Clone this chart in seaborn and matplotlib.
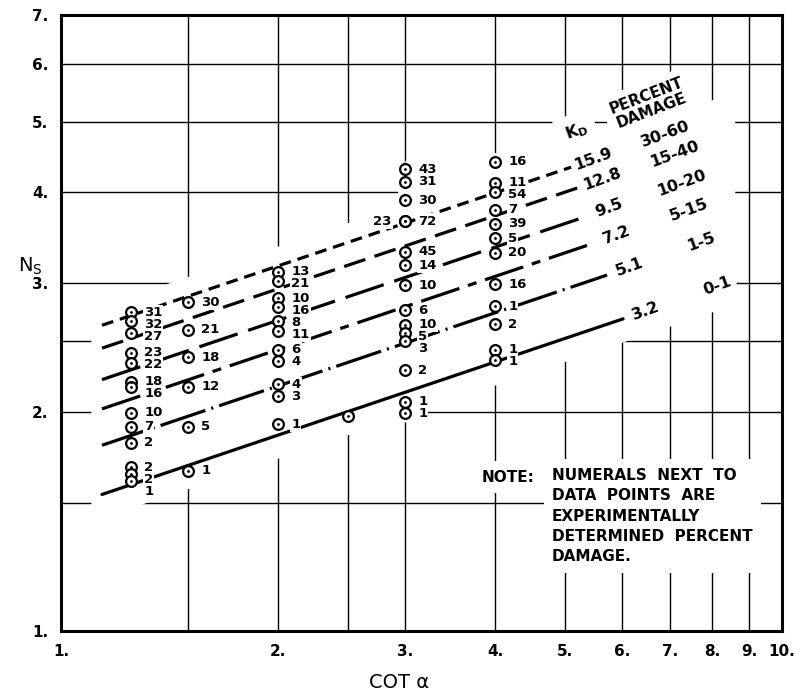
import numpy as np
import pandas as pd
import matplotlib
matplotlib.use("Agg")
import matplotlib.pyplot as plt
import seaborn as sns

# ---------------- measured stability data ----------------
# stability number Ns and experimentally determined percent damage per slope (cot alpha)
cot_a = [1.25, 1.5, 2.0, 2.5, 3.0, 4.0]

ns_125 = [2.736, 2.665, 2.566, 2.409, 2.333, 2.198, 2.159, 1.993, 1.906, 1.813, 1.677, 1.642, 1.607]
dmg_125 = [31, 32, 27, 23, 22, 18, 16, 10, 7, 2, 2, 2, 1]

ns_150 = [2.824, 2.588, 2.374, 2.163, 1.906, 1.659]
dmg_150 = [30, 21, 18, 12, 5, 1]

ns_200 = [3.111, 3.024, 2.860, 2.780, 2.662, 2.582, 2.430, 2.346, 2.180, 2.102, 1.923]
dmg_200 = [13, 21, 10, 16, 8, 11, 6, 4, 4, 3, 1]

ns_250 = [1.974]
dmg_250 = [None]

ns_300 = [4.298, 4.134, 3.901, 3.651, 3.651, 3.314, 3.177, 2.983, 2.756, 2.630, 2.561, 2.502, 2.280, 2.063, 1.993]
dmg_300 = [43, 31, 30, 23, 72, 45, 14, 10, 6, 10, 5, 3, 2, 1, 1]

ns_400 = [4.403, 4.121, 4.006, 3.781, 3.619, 3.457, 3.303, 2.992, 2.791, 2.637, 2.430, 2.353]
dmg_400 = [16, 11, 54, 7, 39, 5, 20, 16, 1, 2, 1, 1]

ns_cols = [ns_125, ns_150, ns_200, ns_250, ns_300, ns_400]
dmg_cols = [dmg_125, dmg_150, dmg_200, dmg_250, dmg_300, dmg_400]

# ---------------- design curves  Ns^3 = KD * cot(alpha) ----------------
kd_values = [15.9, 12.8, 9.5, 7.2, 5.1, 3.2]
damage_ranges = ["30-60", "15-40", "10-20", "5-15", "1-5", "0-1"]
line_x_start = 1.14
line_x_end = [5.10, 5.25, 5.36, 5.50, 5.72, 6.02]

x_ticks = [1, 2, 3, 4, 5, 6, 7, 8, 9, 10]
y_ticks = [1, 2, 3, 4, 5, 6, 7]
x_tick_labels = [f"{t}." for t in x_ticks]
y_tick_labels = [f"{t}." for t in y_ticks]
grid_x = [1.5, 2, 2.5, 3, 4, 5, 6, 7, 8, 9]
grid_y = [1.5, 2, 2.5, 3, 4, 5, 6]

# ---------------- styling ----------------
sns.set_theme(style="white")
plt.rcParams["font.family"] = ["DejaVu Sans"]
plt.rcParams["lines.scale_dashes"] = False
for key in ("text.color", "axes.labelcolor", "xtick.color", "ytick.color"):
    plt.rcParams[key] = "black"

fig = plt.figure(figsize=(7.95, 6.95), dpi=100)
ax = fig.add_axes([61 / 795, 64 / 695, 721 / 795, 616 / 695])
ax.set_xscale("log")
ax.set_yscale("log")
ax.set_xlim(1, 10)
ax.set_ylim(1, 7)
ax.set_facecolor("white")

# grid
for gx in grid_x:
    ax.axvline(gx, color="black", lw=1.0, zorder=1)
for gy in grid_y:
    ax.axhline(gy, color="black", lw=1.0, zorder=1)

# blank drafting band behind curves and data
xx = np.geomspace(1.10, 8.6, 300)
col_top = [max(c) for c in ns_cols]
col_bot = [min(c) for c in ns_cols]
env_top = np.exp(np.interp(np.log(xx), np.log(cot_a), np.log(col_top))) * 1.03
env_bot = np.exp(np.interp(np.log(xx), np.log(cot_a), np.log(col_bot))) / 1.03
env_bot = np.where(xx > max(cot_a), np.inf, env_bot)
upper = np.maximum((max(kd_values) * xx) ** (1 / 3) * 1.065, env_top)
lower = np.minimum((min(kd_values) * xx) ** (1 / 3) * 0.93, env_bot)
ax.fill_between(xx, lower, upper, color="white", lw=0, zorder=1.5)

# design curves
kd_names = [f"{k}" for k in kd_values]
rows = []
for name, kd, xe in zip(kd_names, kd_values, line_x_end):
    for xv in (line_x_start, xe):
        rows.append({"cot": xv, "ns": (kd * xv) ** (1 / 3), "kd": name})
lines_df = pd.DataFrame(rows)
dash_patterns = [(8.5, 5), (16, 7), (29, 8), (29, 6.5, 6.5, 6.5), (34, 4.5, 1.5, 4.5), ""]
sns.lineplot(data=lines_df, x="cot", y="ns", hue="kd", style="kd",
             palette={n: "black" for n in kd_names},
             dashes=dict(zip(kd_names, dash_patterns)),
             lw=2.3, legend=False, estimator=None, sort=False, ax=ax, zorder=3)

# data points
pts = pd.DataFrame([(x, n, d) for x, nl, dl in zip(cot_a, ns_cols, dmg_cols)
                    for n, d in zip(nl, dl)], columns=["cot", "ns", "dmg"])
sns.scatterplot(data=pts, x="cot", y="ns", marker="o", s=60, color="white",
                edgecolor="black", linewidth=1.6, legend=False, ax=ax, zorder=5)
sns.scatterplot(data=pts, x="cot", y="ns", marker="o", s=4, color="black",
                linewidth=0, legend=False, ax=ax, zorder=6)

# damage numerals next to points (stacked so they do not collide)
lab_font = dict(fontsize=9.5, fontweight="bold")
px2pt = 72 / fig.dpi
for x, nl, dl in zip(cot_a, ns_cols, dmg_cols):
    items = []
    for i, (n, d) in enumerate(zip(nl, dl)):
        if d is None:
            continue
        left = i + 1 < len(nl) and nl[i + 1] == n
        py = ax.transData.transform((x, n))[1]
        items.append([n, d, left, py, 0.0])
    last = np.inf
    for it in sorted([it for it in items if not it[2]], key=lambda t: -t[3]):
        ly = min(it[3], last - 12)
        it[4] = (ly - it[3]) * px2pt
        last = ly
    for n, d, left, py, dy in items:
        dx = -9.5 if left else 9.5
        ha = "right" if left else "left"
        ax.annotate(str(d), (x, n), xytext=(dx, dy), textcoords="offset points",
                    ha=ha, va="center", color="white", zorder=4.5,
                    bbox=dict(fc="white", ec="none", pad=0.8), **lab_font)
        ax.annotate(str(d), (x, n), xytext=(dx, dy), textcoords="offset points",
                    ha=ha, va="center", color="black", zorder=7, **lab_font)

# curve labels
big_font = dict(fontsize=11.5, fontweight="bold", rotation=20, ha="center", va="center")
for kd, rng, xe in zip(kd_values, damage_ranges, line_x_end):
    end = (xe, (kd * xe) ** (1 / 3))
    ax.annotate(f"{kd}", end, xytext=(16, 6), textcoords="offset points", zorder=7,
                bbox=dict(fc="white", ec="none", pad=2), **big_font)
    ax.annotate(rng, end, xytext=(68, 24), textcoords="offset points", zorder=7,
                bbox=dict(fc="white", ec="none", pad=3), **big_font)

top_end = (line_x_end[0], (kd_values[0] * line_x_end[0]) ** (1 / 3))
ax.annotate(r"$\mathbf{K_D}$", top_end, xytext=(4, 26), textcoords="offset points",
            zorder=7, bbox=dict(fc="white", ec="none", pad=6), **big_font)
ax.annotate("PERCENT\nDAMAGE", top_end, xytext=(56, 46), textcoords="offset points",
            zorder=7, linespacing=1.0, bbox=dict(fc="white", ec="none", pad=5),
            **{**big_font, "fontsize": 11, "rotation": 21})

# note
note_font = dict(fontsize=11, fontweight="bold", transform=ax.transAxes, zorder=7)
ax.text(0.584, 0.25, "NOTE:", ha="left", va="center",
        bbox=dict(fc="white", ec="none", pad=6), **note_font)
ax.text(0.681, 0.265,
        "NUMERALS  NEXT  TO\nDATA  POINTS  ARE\nEXPERIMENTALLY\nDETERMINED  PERCENT\nDAMAGE.",
        ha="left", va="top", linespacing=1.45,
        bbox=dict(fc="white", ec="none", pad=6), **note_font)

# axes, ticks and titles
ax.set_xticks(x_ticks, labels=x_tick_labels, fontweight="bold", fontsize=11)
ax.set_yticks(y_ticks, labels=y_tick_labels, fontweight="bold", fontsize=11)
ax.minorticks_off()
ax.tick_params(axis="x", length=0, pad=9)
ax.tick_params(axis="y", length=0, pad=9)
for sp in ax.spines.values():
    sp.set_visible(True)
    sp.set_color("black")
    sp.set_linewidth(2.2)
    sp.set_zorder(8)

ax.set_xlabel("COT α", fontsize=14)
ax.xaxis.set_label_coords(0.469, -0.084)
ax.xaxis.label.set_va("center")
ax.set_ylabel(r"$\mathregular{N_S}$", fontsize=14, rotation=0)
ax.yaxis.set_label_coords(-0.043, 0.592)
ax.yaxis.label.set_va("center")
ax.yaxis.label.set_ha("center")

fig.savefig("out.png", dpi=100, facecolor="white")
